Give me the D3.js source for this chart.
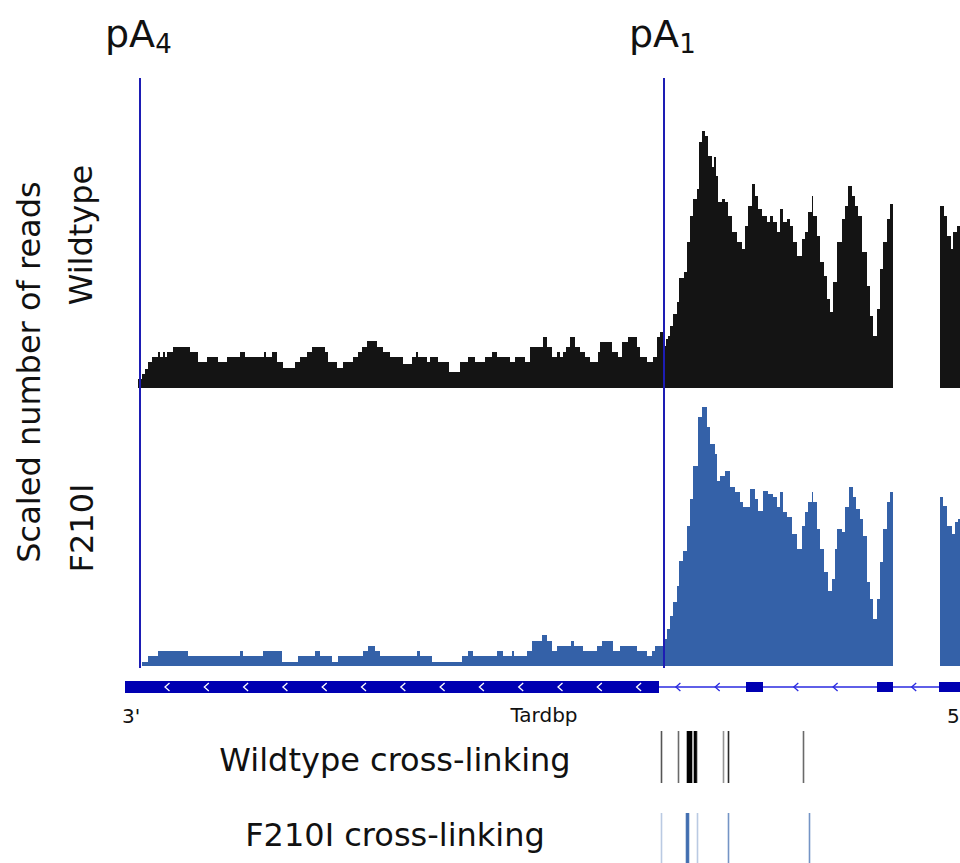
<!DOCTYPE html>
<html>
<head>
<meta charset="utf-8">
<script src="https://cdn.jsdelivr.net/npm/d3@7"></script>
<style>
  body { margin: 0; background: #fff; }
  svg { display: block; font-family: "DejaVu Sans", Verdana, sans-serif; }
</style>
</head>
<body>
<svg id="chart" width="960" height="863"></svg>
<script>
// positions are bp from the 3' end of the view, reads are scaled counts
// each run starts at pos[i] and goes to pos[i+1]
var wtPos = [13,17,20,23,27,30,33,35,38,40,42,48,65,73,82,93,102,115,120,139,141,147,152,158,170,175,182,187,200,203,212,218,228,233,237,242,252,258,265,278,287,291,293,302,305,313,324,335,343,350,360,367,372,385,390,400,405,418,422,427,432,435,438,441,445,450,455,460,465,473,475,487,493,497,503,512,515,522,528,532,535,538,541,543,545,548,552,554,559,562,565,568,572,574,577,580,583,587,589,591,593,597,600,603,607,612,617,620,623,627,630,633,637,642,645,648,652,655,658,662,665,668,672,677,680,683,687,688,692,695,699,702,705,708,712,717,720,723,727,730,733,737,742,745,748,752,755,758,762,765,768,815,819,822,826,828,832,835];
var wtReads = [9,14,19,26,31,31,36,31,36,31,36,41,36,26,31,26,31,36,31,36,31,36,26,20,26,31,36,41,36,26,20,26,31,36,41,47,41,36,31,24,31,36,31,26,31,26,16,26,31,26,31,36,31,26,31,26,41,51,41,31,36,31,36,41,51,41,36,31,26,36,46,36,31,46,51,41,31,26,31,51,56,42,49,52,62,74,86,110,116,146,172,189,199,246,257,252,232,221,231,212,186,189,186,172,156,146,139,162,182,204,192,179,172,166,172,166,156,179,166,169,162,146,132,149,156,176,192,172,152,126,112,89,76,106,146,169,182,202,192,182,172,136,102,72,52,79,119,146,169,184,0,182,172,152,139,156,162,0];

var f210Pos = [17,23,33,63,115,118,138,157,173,190,195,207,213,238,243,250,255,292,295,307,337,343,348,372,378,387,389,402,407,417,422,427,432,446,449,458,472,477,488,495,512,522,527,530,538,542,545,548,552,554,558,562,565,568,573,577,582,585,590,592,595,600,605,610,615,618,625,630,633,638,643,648,652,655,658,662,667,672,677,680,683,687,688,692,695,699,703,707,710,712,717,720,724,728,731,735,738,742,745,748,752,755,758,762,765,768,815,818,822,827,830,833,835];
var f210Reads = [4,10,15,10,15,10,15,4,10,15,10,4,10,15,20,15,10,15,10,4,10,15,10,15,10,15,10,15,25,31,25,15,20,25,20,15,20,25,15,20,15,10,15,20,27,37,50,64,80,105,115,140,167,200,249,259,239,222,212,185,190,195,179,174,164,159,177,167,155,175,172,169,159,174,154,149,132,117,140,154,164,174,164,137,117,94,75,87,117,137,134,159,179,169,157,147,130,84,67,47,67,104,137,164,174,0,169,160,140,132,144,147,0];

// poly(A) sites
var pasNames = ["4", "1"];
var pasPos = [15, 539];

// Tardbp exons (start, end)
var exonStart = [0, 621, 752, 814];
var exonEnd = [534, 638, 768, 835];

// cross-link sites and counts
var wtXlPos = [536, 553, 562, 563, 564, 565, 566, 569, 570, 571, 598, 603, 678];
var wtXlCount = [8, 7, 12, 12, 12, 12, 12, 12, 12, 10, 5, 10, 7];
var f210XlPos = [536, 561, 562, 563, 572, 603, 684];
var f210XlCount = [4, 10, 10, 10, 4, 8, 8];

var svg = d3.select("#chart");

var x = d3.scaleLinear().domain([0, 835]).range([125, 960]);
var yWt = d3.scaleLinear().domain([0, 260]).range([388, 128]);
var yF = d3.scaleLinear().domain([0, 260]).range([666, 406]);

function runs(pos, reads) {
    var out = [];
    for (var i = 0; i < pos.length - 1; i++) {
        if (reads[i] > 0) out.push({x0: pos[i], x1: pos[i + 1], v: reads[i]});
    }
    return out;
}

function track(data, y, color) {
    svg.append("g")
        .attr("shape-rendering", "crispEdges")
        .selectAll("rect")
        .data(data)
        .enter().append("rect")
        .attr("x", d => x(d.x0))
        .attr("width", d => x(d.x1) - x(d.x0))
        .attr("y", d => y(d.v))
        .attr("height", d => y(0) - y(d.v))
        .attr("fill", color);
}

track(runs(wtPos, wtReads), yWt, "#141414");
track(runs(f210Pos, f210Reads), yF, "#3461a8");

// pA lines + labels
svg.selectAll(".pas")
    .data(pasPos)
    .enter().append("line")
    .attr("x1", d => x(d)).attr("x2", d => x(d))
    .attr("y1", 78).attr("y2", 668)
    .attr("stroke", "#1d1db4")
    .attr("stroke-width", 2);

pasPos.forEach(function(p, i) {
    var t = svg.append("text")
        .attr("x", x(p) - 35)
        .attr("y", 47)
        .attr("font-size", 38)
        .attr("fill", "#111");
    t.append("tspan").text("pA");
    t.append("tspan").attr("font-size", 26).attr("dy", 6).text(pasNames[i]);
});

// gene model
var gy = 687;
svg.append("line")
    .attr("x1", x(exonEnd[0])).attr("x2", x(835))
    .attr("y1", gy).attr("y2", gy)
    .attr("stroke", "#2a2ae0")
    .attr("stroke-width", 1.5);

svg.selectAll(".exon")
    .data(exonStart)
    .enter().append("rect")
    .attr("x", d => x(d))
    .attr("width", (d, i) => x(exonEnd[i]) - x(d))
    .attr("y", (d, i) => i == 0 ? gy - 6 : gy - 5)
    .attr("height", (d, i) => i == 0 ? 12 : 10)
    .attr("fill", "#0000b2");

// strand chevrons
var chev = d3.range(42, 835, 39.3).filter(function(c) {
    for (var i = 1; i < exonStart.length; i++) {
        if (c > exonStart[i] - 4 && c < exonEnd[i] + 4) return false;
    }
    return true;
});
svg.selectAll(".chev")
    .data(chev)
    .enter().append("path")
    .attr("d", d => "M" + (x(d) + 2.5) + "," + (gy - 4) + "L" + (x(d) - 2) + "," + gy + "L" + (x(d) + 2.5) + "," + (gy + 4))
    .attr("fill", "none")
    .attr("stroke", d => d < exonEnd[0] ? "#fff" : "#2a2ae0")
    .attr("stroke-width", 1.3);

svg.append("text").attr("x", 122).attr("y", 723).attr("font-size", 20).attr("fill", "#111").text("3'");
svg.append("text").attr("x", 947).attr("y", 723).attr("font-size", 20).attr("fill", "#111").text("5'");
svg.append("text").attr("x", 544).attr("y", 722).attr("font-size", 20).attr("fill", "#111")
    .attr("text-anchor", "middle").text("Tardbp");

// cross-linking tracks
function xlinks(pos, count, y0, y1, color) {
    var op = d3.scaleLinear().domain([0, 12]).range([0, 1]);
    svg.append("g").selectAll("rect")
        .data(pos)
        .enter().append("rect")
        .attr("x", d => x(d) - 0.3)
        .attr("width", 1.6)
        .attr("y", y0)
        .attr("height", y1 - y0)
        .attr("fill", color)
        .attr("fill-opacity", (d, i) => op(count[i]));
}
xlinks(wtXlPos, wtXlCount, 731, 783, "#000");
xlinks(f210XlPos, f210XlCount, 813, 863, "#2f5fa8");

svg.append("text").attr("x", 395).attr("y", 771).attr("font-size", 32).attr("fill", "#111")
    .attr("text-anchor", "middle").text("Wildtype cross-linking");
svg.append("text").attr("x", 395).attr("y", 846).attr("font-size", 32).attr("fill", "#111")
    .attr("text-anchor", "middle").text("F210I cross-linking");

// y labels
function vlabel(tx, ty, s) {
    svg.append("text")
        .attr("transform", "translate(" + tx + "," + ty + ") rotate(-90)")
        .attr("text-anchor", "middle")
        .attr("font-size", 32)
        .attr("fill", "#111")
        .text(s);
}
vlabel(40, 372, "Scaled number of reads");
vlabel(92, 235, "Wildtype");
vlabel(93, 528, "F210I");
</script>
</body>
</html>
